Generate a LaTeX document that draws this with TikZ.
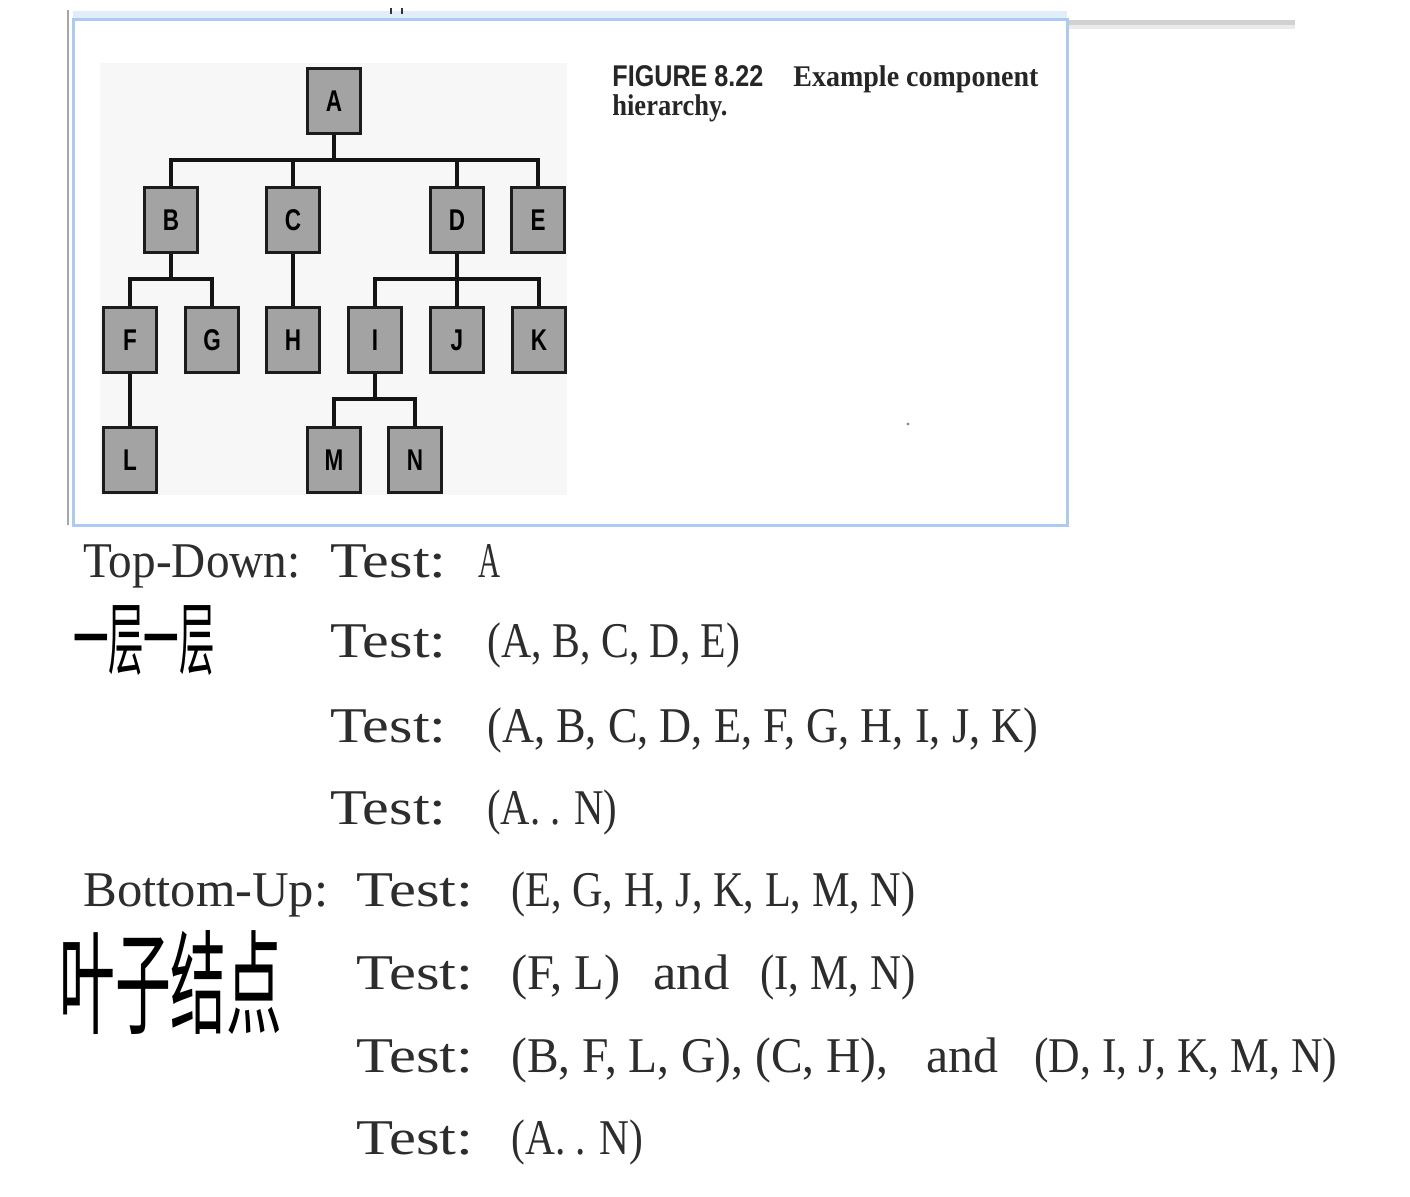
\documentclass[tikz,border=0pt]{standalone}
\usepackage{fontspec}
\usepackage{graphicx}
\setmainfont{Liberation Serif}
\newfontfamily\capsf{Liberation Sans}
\newfontfamily\boxsf[FakeStretch=0.75]{Liberation Sans}
\newfontfamily\cjk{Noto Sans CJK SC}
\definecolor{txtc}{RGB}{45,45,45}
\definecolor{framec}{RGB}{172,203,242}
\definecolor{boxfill}{RGB}{163,163,163}
\definecolor{boxline}{RGB}{28,28,28}
\newcommand\fitw[2]{\resizebox{#1pt}{\height}{#2}}
\tikzset{
  txt/.style={anchor=base west, inner sep=0pt, text=txtc, font=\fontsize{25}{30}\selectfont},
  captxt/.style={anchor=base west, inner sep=0pt, text=black!85},
  comp/.style={draw=boxline, line width=1.6pt, fill=boxfill, minimum width=26.5pt, minimum height=32.5pt, inner sep=0pt, font=\boxsf\bfseries\fontsize{15}{17}\selectfont, text=black},
  conn/.style={draw=black!92, line width=1.6pt},
  hand/.style={inner sep=0pt, text=black}
}
\begin{document}
\begin{tikzpicture}[x=0.5pt,y=-0.5pt]
\useasboundingbox (0,0) rectangle (1410,1196);
\fill[white] (0,0) rectangle (1410,1196);
% screenshot frame
\fill[framec!35] (73,11) rectangle (1067,19);
\draw[black!35, line width=0.6pt] (68,10) -- (68,525);
\fill[black!18] (1067,20) rectangle (1295,25);
\fill[black!8] (1067,25) rectangle (1295,29);
\draw[framec, line width=1.5pt] (73,19) rectangle (1067,525);
\draw[black!80, line width=1.2pt] (391,8) -- (391,14);
\draw[black!80, line width=1.2pt] (402,8) -- (402,14);
\fill[black!45] (908,424) circle (1.6);
% scanned figure background
\fill[black!3] (100,63) rectangle (567,495);
% components
\node[comp] (A) at (334,101) {A};
\node[comp] (B) at (171,220) {B};
\node[comp] (C) at (293,220) {C};
\node[comp] (D) at (457,220) {D};
\node[comp] (E) at (538,220) {E};
\node[comp] (F) at (130,340) {F};
\node[comp] (G) at (212,340) {G};
\node[comp] (H) at (293,340) {H};
\node[comp] (I) at (375,340) {I};
\node[comp] (J) at (457,340) {J};
\node[comp] (K) at (539,340) {K};
\node[comp] (L) at (130,460) {L};
\node[comp] (M) at (334,460) {M};
\node[comp] (N) at (415,460) {N};
% connectors
\coordinate (busA) at (334,160);
\coordinate (busB) at (171,279);
\coordinate (busD) at (457,279);
\coordinate (busI) at (375,399);
\draw[conn] (A.south) -- (busA);
\draw[conn] (B.north) |- (busA);
\draw[conn] (E.north) |- (busA);
\draw[conn] (C.north) -- (C.north |- busA);
\draw[conn] (D.north) -- (D.north |- busA);
\draw[conn] (B.south) -- (busB);
\draw[conn] (F.north) |- (busB);
\draw[conn] (G.north) |- (busB);
\draw[conn] (C.south) -- (H.north);
\draw[conn] (D.south) -- (busD);
\draw[conn] (I.north) |- (busD);
\draw[conn] (K.north) |- (busD);
\draw[conn] (J.north) -- (busD);
\draw[conn] (F.south) -- (L.north);
\draw[conn] (I.south) -- (busI);
\draw[conn] (M.north) |- (busI);
\draw[conn] (N.north) |- (busI);
% caption
\node[captxt] (figno) at (612,86) {\fitw{75.5}{\capsf\bfseries\fontsize{15}{18}\selectfont FIGURE 8.22}};
\node[captxt] (figt1) at (793,86) {\fitw{122.5}{\bfseries\fontsize{15}{18}\selectfont Example component}};
\node[captxt] (figt2) at (612,115) {\fitw{57.5}{\bfseries\fontsize{15}{18}\selectfont hierarchy.}};
% Top-Down
\node[txt] (td) at (83,577) {\fitw{108.5}{Top-Down:}};
\node[txt] (td1) at (330,577) {\fitw{58}{Test:}};
\node[txt] (td1v) at (478,577) {\fitw{11}{A}};
\node[txt] (td2) at (330,657) {\fitw{58}{Test:}};
\node[txt] (td2v) at (487,657) {\fitw{126.5}{(A, B, C, D, E)}};
\node[txt] (td3) at (330,742) {\fitw{58}{Test:}};
\node[txt] (td3v) at (487,742) {\fitw{275.5}{(A, B, C, D, E, F, G, H, I, J, K)}};
\node[txt] (td4) at (330,824) {\fitw{58}{Test:}};
\node[txt] (td4v) at (487,824) {\fitw{65}{(A. . N)}};
% Bottom-Up
\node[txt] (bu) at (83,906) {\fitw{122.5}{Bottom-Up:}};
\node[txt] (bu1) at (356,906) {\fitw{58.5}{Test:}};
\node[txt] (bu1v) at (511,906) {\fitw{202}{(E, G, H, J, K, L, M, N)}};
\node[txt] (bu2) at (356,989) {\fitw{58.5}{Test:}};
\node[txt] (bu2a) at (511,989) {\fitw{54.5}{(F, L)}};
\node[txt] (bu2b) at (653,989) {\fitw{38}{and}};
\node[txt] (bu2c) at (760,989) {\fitw{77.5}{(I, M, N)}};
\node[txt] (bu3) at (356,1072) {\fitw{58.5}{Test:}};
\node[txt] (bu3a) at (511,1072) {\fitw{188.5}{(B, F, L, G), (C, H),}};
\node[txt] (bu3b) at (926,1072) {\fitw{36}{and}};
\node[txt] (bu3c) at (1034,1072) {\fitw{151.5}{(D, I, J, K, M, N)}};
\node[txt] (bu4) at (356,1154) {\fitw{58.5}{Test:}};
\node[txt] (bu4v) at (511,1154) {\fitw{66}{(A. . N)}};
% handwritten notes
\node[hand] (hw1) at (144,641) {\resizebox*{71pt}{35pt}{\cjk 一层一层}};
\node[hand] (hw2) at (171,983) {\resizebox*{111.5pt}{52pt}{\cjk 叶子结点}};
\end{tikzpicture}
\end{document}
